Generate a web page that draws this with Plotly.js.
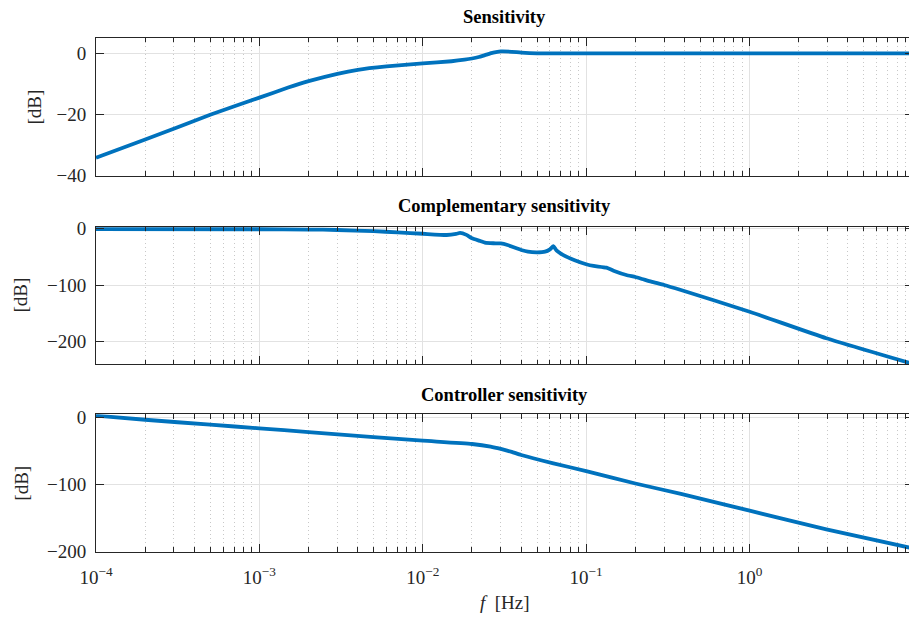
<!DOCTYPE html>
<html>
<head>
<meta charset="utf-8">
<script src="https://cdn.plot.ly/plotly-3.0.1.min.js"></script>
<style>
html, body { margin: 0; padding: 0; overflow: hidden; background: #fff; }
#chart { width: 913px; height: 620px; }
</style>
</head>
<body>
<div id="chart"></div>
<script>
// ---- Data (frequency in Hz, magnitude in dB) ----
const freqS = [1e-4, 2e-4, 5e-4, 1e-3, 1.5e-3, 2e-3, 3e-3, 4e-3, 6e-3, 1e-2, 1.5e-2, 1.8e-2, 2e-2, 2.2e-2, 2.4e-2, 2.7e-2, 3e-2, 3.5e-2, 4e-2, 5e-2, 7e-2, 1e-1, 1, 10];
const sensDb = [-34.1, -28.2, -20.1, -14.5, -11.2, -9.1, -6.7, -5.4, -4.3, -3.3, -2.6, -2.1, -1.7, -1.2, -0.6, 0.2, 0.6, 0.5, 0.25, 0.0, -0.05, 0, 0, 0];

const freqT = [1e-4, 1e-3, 2e-3, 3e-3, 5e-3, 7e-3, 1e-2, 1.4e-2, 1.6e-2, 1.69e-2, 1.85e-2, 2e-2, 2.25e-2, 2.4e-2, 2.7e-2, 3e-2, 3.3e-2, 3.6e-2, 4e-2, 4.4e-2, 5e-2, 5.6e-2, 6e-2, 6.3e-2, 6.6e-2, 7.2e-2, 8.5e-2, 1e-1, 1.11e-1, 1.33e-1, 1.47e-1, 1.76e-1, 2e-1, 2.2e-1, 2.5e-1, 3e-1, 3.8e-1, 1, 2.95, 10];
const compDb = [-0.8, -1.0, -1.5, -2.3, -4.5, -6.5, -9, -11.2, -9.3, -7.6, -11, -17, -21.8, -24.7, -25.8, -26, -28.9, -33, -37.7, -40.7, -41.8, -40.7, -36.5, -31, -39, -46.5, -56, -63, -66, -69, -74.3, -82, -85.5, -89, -93.8, -99.6, -108.5, -147, -194, -239.5];

const freqC = [1e-4, 2e-4, 5e-4, 1e-3, 2e-3, 5e-3, 1e-2, 2e-2, 2.6e-2, 3e-2, 3.5e-2, 4e-2, 6.3e-2, 1e-1, 2e-1, 3.8e-1, 1, 2.95, 10];
const ctrlDb = [2.4, -3.6, -11, -16.4, -22, -29.5, -34.8, -39.7, -43.5, -47, -51.5, -56, -68.5, -80, -98.5, -114, -139, -166.7, -195];

const titles = ['Sensitivity', 'Complementary sensitivity', 'Controller sensitivity'];
const xMajor = [1e-4, 1e-3, 1e-2, 1e-1, 1];
const xMajorText = ['10<sup>\u22124</sup>', '10<sup>\u22123</sup>', '10<sup>\u22122</sup>', '10<sup>\u22121</sup>', '10<sup>0</sup>'];
const xMinor = [];
[1e-4, 1e-3, 1e-2, 1e-1, 1].forEach(d => { for (let k = 2; k <= 9; k++) xMinor.push(+(k * d).toPrecision(3)); });
const yTicks1 = [-40, -20, 0];
const yTicks2 = [-200, -100, 0];
const yTicks3 = [-200, -100, 0];

// ---- Styling ----
const lineColor = '#0072BD';
const axColor = '#262626';
const tickFont = { family: 'Liberation Serif, Times New Roman, serif', size: 19, color: axColor };

function mkTrace(x, y, xa, ya) {
  return { x: x, y: y, xaxis: xa, yaxis: ya, type: 'scatter', mode: 'lines',
           line: { color: lineColor, width: 3.8, shape: 'spline', smoothing: 0.5 }, hoverinfo: 'skip' };
}

function mkX(anchor, showLabels) {
  return {
    type: 'log', range: [-4, 1], domain: [0, 1], anchor: anchor,
    showline: true, linecolor: axColor, linewidth: 1, mirror: 'ticks',
    ticks: 'inside', ticklen: 8, tickwidth: 1, tickcolor: axColor,
    tickmode: 'array', tickvals: xMajor, ticktext: xMajorText,
    showticklabels: showLabels, tickfont: tickFont, ticklabelstandoff: 8,
    showgrid: true, gridcolor: '#e2e2e2', gridwidth: 1, zeroline: false,
    minor: { tickmode: 'array', tickvals: xMinor, ticks: 'inside', ticklen: 4.5, tickwidth: 1,
             tickcolor: axColor, showgrid: true, gridcolor: '#c8c8c8', gridwidth: 1, griddash: '1px,3px' },
    automargin: false, fixedrange: true
  };
}
function mkY(anchor, dom, rng, tv) {
  return {
    domain: dom, range: rng, anchor: anchor,
    showline: true, linecolor: axColor, linewidth: 1, mirror: 'ticks',
    ticks: 'inside', ticklen: 8, tickwidth: 1, tickcolor: axColor,
    tickmode: 'array', tickvals: tv, tickfont: tickFont, ticklabelstandoff: 5,
    showgrid: true, gridcolor: '#e2e2e2', gridwidth: 1, zeroline: false,
    automargin: false, fixedrange: true
  };
}

const H = 620;
const py = p => 1 - p / H;
const annFontT = { family: 'Liberation Serif, Times New Roman, serif', size: 18.5, color: '#000' };
const annFontL = { family: 'Liberation Serif, Times New Roman, serif', size: 19, color: axColor };

const annotations = [
  { text: '<b>' + titles[0] + '</b>', x: 0.5, y: py(17), xref: 'paper', yref: 'paper', showarrow: false, xanchor: 'center', yanchor: 'middle', font: annFontT },
  { text: '<b>' + titles[1] + '</b>', x: 0.5, y: py(206), xref: 'paper', yref: 'paper', showarrow: false, xanchor: 'center', yanchor: 'middle', font: annFontT },
  { text: '<b>' + titles[2] + '</b>', x: 0.5, y: py(395), xref: 'paper', yref: 'paper', showarrow: false, xanchor: 'center', yanchor: 'middle', font: annFontT },
  { text: '[dB]', textangle: -90, x: (33.5 - 96) / 817, y: py(107), xref: 'paper', yref: 'paper', showarrow: false, xanchor: 'center', yanchor: 'middle', font: annFontL },
  { text: '[dB]', textangle: -90, x: (20 - 96) / 817, y: py(295.5), xref: 'paper', yref: 'paper', showarrow: false, xanchor: 'center', yanchor: 'middle', font: annFontL },
  { text: '[dB]', textangle: -90, x: (20.7 - 96) / 817, y: py(483), xref: 'paper', yref: 'paper', showarrow: false, xanchor: 'center', yanchor: 'middle', font: annFontL },
  { text: '<i>f</i>  [Hz]', x: (505 - 96) / 817, y: py(602), xref: 'paper', yref: 'paper', showarrow: false, xanchor: 'center', yanchor: 'middle', font: annFontL }
];

const data = [
  mkTrace(freqS, sensDb, 'x', 'y'),
  mkTrace(freqT, compDb, 'x2', 'y2'),
  mkTrace(freqC, ctrlDb, 'x3', 'y3')
];

const layout = {
  width: 913, height: 620,
  margin: { l: 96, r: 0, t: 0, b: 0, pad: 0 },
  paper_bgcolor: '#fff', plot_bgcolor: '#fff',
  showlegend: false,
  xaxis: mkX('y', false),
  xaxis2: mkX('y2', false),
  xaxis3: mkX('y3', true),
  yaxis: mkY('x', [py(175.7), py(37.7)], [-40, 5.1], yTicks1),
  yaxis2: mkY('x2', [py(364.3), py(226.7)], [-240, 3.5], yTicks2),
  yaxis3: mkY('x3', [py(551.7), py(414.3)], [-200, 4.5], yTicks3),
  annotations: annotations
};

Plotly.newPlot('chart', data, layout, { displayModeBar: false, staticPlot: true });
</script>
</body>
</html>
